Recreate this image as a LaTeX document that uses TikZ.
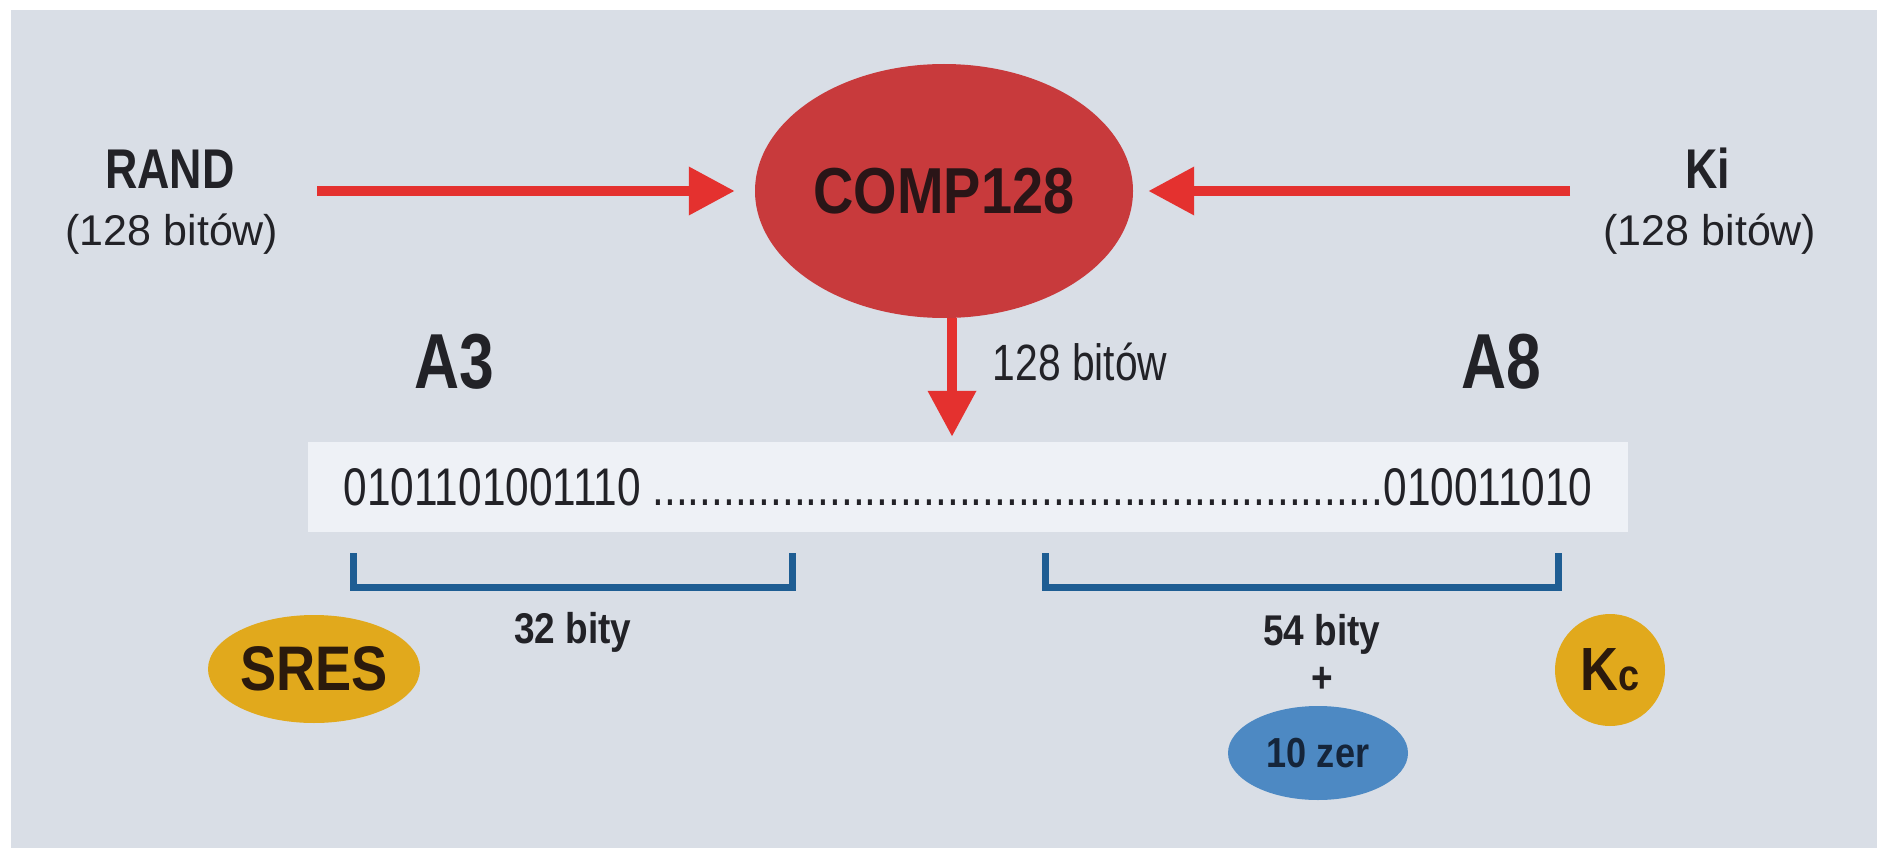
\documentclass[tikz,border=0pt]{standalone}
\usepackage{fontspec}
\setmainfont{Liberation Sans}
\newfontfamily\condfont[FakeStretch=0.8]{Liberation Sans}
\newfontfamily\semicond[FakeStretch=0.86]{Liberation Sans}
\usetikzlibrary{arrows.meta,positioning,shapes.geometric}

\definecolor{bgcol}{HTML}{D9DEE6}
\definecolor{bitbox}{HTML}{EEF1F6}
\definecolor{redarr}{HTML}{E4312F}
\definecolor{compred}{HTML}{C83A3C}
\definecolor{compink}{HTML}{2A1517}
\definecolor{ink}{HTML}{222227}
\definecolor{brblue}{HTML}{1E5D93}
\definecolor{gold}{HTML}{E1A91C}
\definecolor{goldink}{HTML}{2B1A0C}
\definecolor{zerblue}{HTML}{4D89C3}
\definecolor{zerink}{HTML}{15253A}

\begin{document}
\begin{tikzpicture}[x=1pt,y=-1pt,
lbl/.style={inner sep=0pt, text=ink, anchor=base},
blob/.style={ellipse, inner sep=0pt},
redarrow/.style={draw=redarr, line width=10pt, -{Triangle[length=46pt,width=46pt]}},
brace/.style={draw=brblue, line width=7pt},
]
\useasboundingbox (0,0) rectangle (1877,848);
\fill[white] (0,0) rectangle (1877,848);
\fill[bgcol] (11,10) rectangle (1877,848);

%Nodes
\node[blob, fill=compred, text=compink, minimum width=378pt, minimum height=254pt,
  font=\semicond\bfseries\fontsize{65}{65}\selectfont] (comp) at (944,191) {COMP128};

\node[lbl, font=\condfont\bfseries\fontsize{56}{56}\selectfont] (rand) at (170,188) {RAND};
\node[lbl, font=\fontsize{43}{43}\selectfont] (randbits) at (172,245) {(128 bitów)};
\node[lbl, font=\condfont\bfseries\fontsize{56}{56}\selectfont] (ki) at (1708,188) {Ki};
\node[lbl, font=\fontsize{43}{43}\selectfont] (kibits) at (1710,245) {(128 bitów)};

\node[lbl, font=\condfont\bfseries\fontsize{78}{78}\selectfont] (athree) at (454,388) {A3};
\node[lbl, font=\condfont\bfseries\fontsize{78}{78}\selectfont] (aeight) at (1501,388) {A8};
\node[lbl, font=\condfont\fontsize{51}{51}\selectfont] (outbits) at (1080,380) {128 bitów};

\node[fill=bitbox, text=ink, inner sep=0pt, minimum width=1320pt, minimum height=90pt,
  font=\condfont\fontsize{53}{53}\selectfont] (bits) at (968,487)
  {0101101001110 ..............................................................010011010};

\node[lbl, font=\semicond\bfseries\fontsize{43}{43}\selectfont] (sresbits) at (573,643) {32 bity};
\node[lbl, font=\semicond\bfseries\fontsize{43}{43}\selectfont] (kcbits) at (1322,645) {54 bity};
\node[lbl, font=\semicond\bfseries\fontsize{43}{43}\selectfont] (plus) at (1322,692) {+};

\node[blob, fill=gold, text=goldink, minimum width=212pt, minimum height=108pt,
  font=\semicond\bfseries\fontsize{63}{63}\selectfont] (sres) at (314,669) {SRES};
\node[blob, fill=gold, text=goldink, minimum width=110pt, minimum height=112pt,
  font=\semicond\bfseries\fontsize{61}{61}\selectfont] (kc) at (1610,670) {K{\fontsize{44}{44}\selectfont c}};
\node[blob, fill=zerblue, text=zerink, minimum width=180pt, minimum height=94pt,
  font=\semicond\bfseries\fontsize{42}{42}\selectfont] (zer) at (1318,753) {10 zer};

%Arrows
\coordinate (randtail) at (317,191);
\coordinate (kitail) at (1570,191);
\draw[redarrow, shorten >=20pt] (randtail) -- (comp);
\draw[redarrow, shorten >=15pt] (kitail) -- (comp);
\draw[redarrow, shorten >=5pt] ([xshift=8pt]comp.south) -- ([xshift=8pt]comp.south |- bits.north);

%Brackets
\draw[brace] (353,553) |- (792,587) -- (792,553);
\draw[brace] (1045,553) |- (1558,587) -- (1558,553);
\end{tikzpicture}
\end{document}
